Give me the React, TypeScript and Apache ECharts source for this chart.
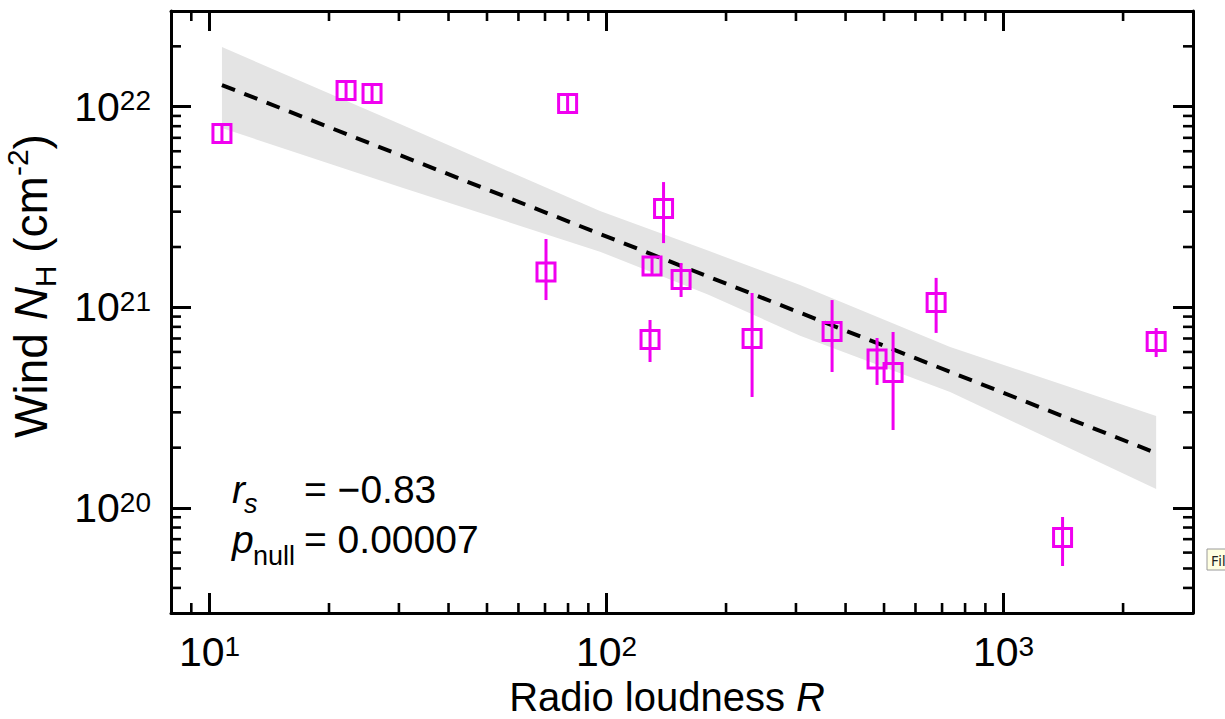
import React, { useEffect, useRef } from 'react';
import * as echarts from 'echarts';

// Axis ranges
const X_MIN = 8;
const X_MAX = 3000;
const Y_MIN = 3e19;
const Y_MAX = 3e22;

// Data points
const radioLoudness = [10.75, 22.08, 25.67, 79.8, 70.4, 139.2, 130.2, 154.1, 128.7, 232.6, 369.9, 480.1, 526.9, 676.3, 1408, 2423];
const windNH = [7.35e21, 1.204e22, 1.164e22, 1.038e22, 1.501e21, 3.111e21, 1.609e21, 1.377e21, 6.918e20, 6.998e20, 7.585e20, 5.534e20, 4.738e20, 1.058e21, 7.137e19, 6.761e20];
const windNHLow = [7.35e21, 1.204e22, 1.164e22, 1.038e22, 1.088e21, 2.092e21, 1.609e21, 1.127e21, 5.345e20, 3.578e20, 4.765e20, 4.107e20, 2.449e20, 7.462e20, 5.144e19, 5.658e20];
const windNHHigh = [7.35e21, 1.204e22, 1.164e22, 1.038e22, 2.192e21, 4.213e21, 1.609e21, 1.665e21, 8.656e20, 1.18e21, 1.088e21, 7.042e20, 7.541e20, 1.403e21, 9.027e19, 7.893e20];

// Regression line
const fitR = [10.75, 2423];
const fitNH = [1.283e22, 1.881e20];

// Confidence band
const bandR = [10.75, 30.2, 96.3, 180, 307.3, 733.5, 2423];
const bandUpper = [1.984e22, 8.2e21, 3.02e21, 1.92e21, 1.292e21, 6.35e20, 2.874e20];
const bandLower = [7.83e21, 3.98e21, 1.895e21, 1.16e21, 7.23e20, 3.79e20, 1.244e20];

// Minor tick positions
const xMinorTicks = [9, 20, 30, 40, 50, 60, 70, 80, 90, 200, 300, 400, 500, 600, 700, 800, 900, 2000];
const yMinorTicks = [4e19, 5e19, 6e19, 7e19, 8e19, 9e19, 2e20, 3e20, 4e20, 5e20, 6e20, 7e20, 8e20, 9e20, 2e21, 3e21, 4e21, 5e21, 6e21, 7e21, 8e21, 9e21, 2e22];

// Texts
const xTitle = 'Radio loudness ';
const xTitleItalic = 'R';
const statRs = '= −0.83';
const statPnull = '= 0.00007';

const FONT = "'Liberation Sans', Arial, Helvetica, sans-serif";
const NARROW = "'Liberation Sans Narrow', 'Arial Narrow', 'Liberation Sans', sans-serif";
const MAGENTA = '#f000f0';
const BLACK = '#000000';

const powLabel = (v: number) => {
  const l = Math.log10(v);
  const e = Math.round(l);
  if (Math.abs(l - e) > 1e-6) return '';
  return `{b|10}{s|${e}}`;
};

const labelRich = {
  b: { fontSize: 41, lineHeight: 40, fontFamily: NARROW, color: BLACK },
  s: { fontSize: 28, lineHeight: 14, verticalAlign: 'top', fontFamily: NARROW, color: BLACK },
};

export default function App() {
  const ref = useRef<HTMLDivElement>(null);

  useEffect(() => {
    if (!ref.current) return;
    const chart = echarts.init(ref.current, null, { renderer: 'svg' });

    const axisCommon = {
      type: 'log' as const,
      logBase: 10,
      splitLine: { show: false },
      axisLine: { show: true, onZero: false, lineStyle: { color: BLACK, width: 3 } },
      axisTick: { show: true, inside: true, length: 20, lineStyle: { color: BLACK, width: 3 } },
      minorTick: { show: false },
    };

    const option: any = {
      animation: false,
      backgroundColor: '#ffffff',
      grid: { left: 171, top: 11, right: 32, bottom: 106, containLabel: false },
      xAxis: [
        {
          ...axisCommon,
          min: X_MIN,
          max: X_MAX,
          position: 'bottom',
          axisLabel: {
            show: true,
            margin: 19,
            formatter: powLabel,
            rich: labelRich,
            showMinLabel: false,
            showMaxLabel: false,
          },
        },
        {
          ...axisCommon,
          min: X_MIN,
          max: X_MAX,
          position: 'top',
          axisLabel: { show: false },
        },
      ],
      yAxis: [
        {
          ...axisCommon,
          min: Y_MIN,
          max: Y_MAX,
          position: 'left',
          axisLabel: {
            show: true,
            margin: 20,
            formatter: powLabel,
            rich: labelRich,
            showMinLabel: false,
            showMaxLabel: false,
          },
        },
        {
          ...axisCommon,
          min: Y_MIN,
          max: Y_MAX,
          position: 'right',
          axisLabel: { show: false },
        },
      ],
      series: [
        {
          type: 'custom',
          name: 'band',
          silent: true,
          data: [[bandR[0], bandUpper[0]]],
          renderItem: (params: any, api: any) => {
            const up = bandR.map((r, i) => api.coord([r, bandUpper[i]]));
            const lo = bandR.map((r, i) => api.coord([r, bandLower[i]])).reverse();
            return {
              type: 'polygon',
              shape: { points: up.concat(lo) },
              style: { fill: '#e4e4e4', stroke: 'none' },
            };
          },
          z: 1,
        },
        {
          type: 'line',
          name: 'fit',
          silent: true,
          data: fitR.map((r, i) => [r, fitNH[i]]),
          symbol: 'none',
          showSymbol: false,
          lineStyle: { color: BLACK, width: 4, type: [14, 10] },
          z: 2,
        },
        {
          type: 'custom',
          name: 'points',
          silent: true,
          data: radioLoudness.map((r, i) => [r, windNH[i], windNHLow[i], windNHHigh[i]]),
          encode: { x: 0, y: 1 },
          renderItem: (params: any, api: any) => {
            const x = api.value(0);
            const y = api.value(1);
            const lo = api.value(2);
            const hi = api.value(3);
            const c = api.coord([x, y]);
            const top = api.coord([x, hi])[1];
            const bot = api.coord([x, lo])[1];
            const half = 9;
            return {
              type: 'group',
              children: [
                {
                  type: 'line',
                  shape: { x1: c[0], y1: Math.min(top, c[1] - half), x2: c[0], y2: Math.max(bot, c[1] + half) },
                  style: { stroke: MAGENTA, lineWidth: 3 },
                },
                {
                  type: 'rect',
                  shape: { x: c[0] - half, y: c[1] - half, width: half * 2, height: half * 2 },
                  style: { fill: 'none', stroke: MAGENTA, lineWidth: 3 },
                },
              ],
            };
          },
          z: 3,
        },
        {
          type: 'custom',
          name: 'xMinor',
          silent: true,
          data: xMinorTicks.map((v) => [v, Y_MIN]),
          renderItem: (params: any, api: any) => {
            const v = api.value(0);
            const b = api.coord([v, Y_MIN]);
            const t = api.coord([v, Y_MAX]);
            const st = { stroke: BLACK, lineWidth: 2.6 };
            return {
              type: 'group',
              children: [
                { type: 'line', shape: { x1: b[0], y1: b[1], x2: b[0], y2: b[1] - 10 }, style: st },
                { type: 'line', shape: { x1: t[0], y1: t[1], x2: t[0], y2: t[1] + 10 }, style: st },
              ],
            };
          },
          z: 4,
        },
        {
          type: 'custom',
          name: 'yMinor',
          silent: true,
          data: yMinorTicks.map((v) => [X_MIN, v]),
          renderItem: (params: any, api: any) => {
            const v = api.value(1);
            const l = api.coord([X_MIN, v]);
            const r = api.coord([X_MAX, v]);
            const st = { stroke: BLACK, lineWidth: 2.6 };
            return {
              type: 'group',
              children: [
                { type: 'line', shape: { x1: l[0], y1: l[1], x2: l[0] + 10, y2: l[1] }, style: st },
                { type: 'line', shape: { x1: r[0], y1: r[1], x2: r[0] - 10, y2: r[1] }, style: st },
              ],
            };
          },
          z: 4,
        },
      ],
      graphic: [
        // x-axis title
        {
          type: 'text',
          x: 667,
          y: 697,
          silent: true,
          style: {
            text: `{m|${xTitle}}{i|${xTitleItalic}}`,
            align: 'center',
            verticalAlign: 'middle',
            rich: {
              m: { fontSize: 40, lineHeight: 36, fontFamily: FONT, fill: BLACK },
              i: { fontSize: 40, lineHeight: 36, fontFamily: FONT, fontStyle: 'italic', fill: BLACK },
            },
          },
        },
        // y-axis title
        {
          type: 'text',
          x: 31,
          y: 286,
          rotation: Math.PI / 2,
          silent: true,
          style: {
            text: '{m|Wind }{i|N}{sub|H}{m| (cm}{sup|-2}{m|)}',
            align: 'center',
            verticalAlign: 'middle',
            rich: {
              m: { fontSize: 46, lineHeight: 58, fontFamily: FONT, fill: BLACK },
              i: { fontSize: 46, lineHeight: 58, fontFamily: FONT, fontStyle: 'italic', fill: BLACK },
              sub: { fontSize: 30, lineHeight: 30, verticalAlign: 'bottom', fontFamily: FONT, fill: BLACK },
              sup: { fontSize: 30, lineHeight: 30, verticalAlign: 'top', fontFamily: FONT, fill: BLACK },
            },
          },
        },
        // statistics annotation
        {
          type: 'text', x: 232, y: 489.5, silent: true,
          style: { text: 'r', fontSize: 39, fontStyle: 'italic', fontFamily: FONT, fill: BLACK, verticalAlign: 'middle' },
        },
        {
          type: 'text', x: 244, y: 503.5, silent: true,
          style: { text: 's', fontSize: 27, fontStyle: 'italic', fontFamily: FONT, fill: BLACK, verticalAlign: 'middle' },
        },
        {
          type: 'text', x: 304, y: 489.5, silent: true,
          style: { text: statRs, fontSize: 39, fontFamily: FONT, fill: BLACK, verticalAlign: 'middle' },
        },
        {
          type: 'text', x: 232, y: 539.5, silent: true,
          style: { text: 'p', fontSize: 39, fontStyle: 'italic', fontFamily: FONT, fill: BLACK, verticalAlign: 'middle' },
        },
        {
          type: 'text', x: 253, y: 555.5, silent: true,
          style: { text: 'null', fontSize: 27, fontFamily: FONT, fill: BLACK, verticalAlign: 'middle' },
        },
        {
          type: 'text', x: 304, y: 539.5, silent: true,
          style: { text: statPnull, fontSize: 39, fontFamily: FONT, fill: BLACK, verticalAlign: 'middle' },
        },
        // screenshot tooltip fragment at the right edge
        {
          type: 'rect', x: 1207, y: 549, silent: true,
          shape: { x: 0, y: 0, width: 24, height: 21 },
          style: { fill: '#ffffe1', stroke: '#9a9a9a', lineWidth: 1 },
        },
        {
          type: 'text', x: 1211, y: 560, silent: true,
          style: { text: 'Fil', fontSize: 14, fontFamily: "'Noto Sans', 'DejaVu Sans', sans-serif", fill: '#222', verticalAlign: 'middle' },
        },
      ],
    };

    chart.setOption(option);
    return () => {
      chart.dispose();
    };
  }, []);

  return (
    <div
      ref={ref}
      style={{ position: 'absolute', left: 0, top: 0, width: '1225px', height: '719px', background: '#ffffff' }}
    />
  );
}
